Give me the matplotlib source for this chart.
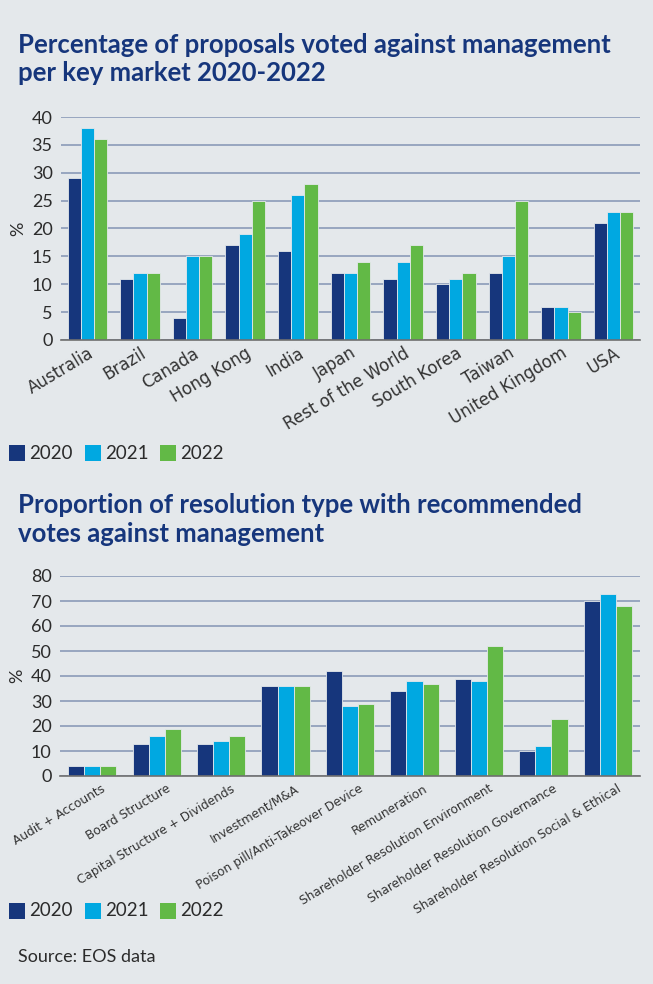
import matplotlib
matplotlib.use("Agg")
import matplotlib.pyplot as plt
import matplotlib.patches as patches
import matplotlib.transforms as mtransforms
import numpy as np

# ---- data ----
years = ["2020", "2021", "2022"]

markets = ["Australia", "Brazil", "Canada", "Hong Kong", "India", "Japan",
           "Rest of the World", "South Korea", "Taiwan", "United Kingdom", "USA"]
market_2020 = [29, 11, 4, 17, 16, 12, 11, 10, 12, 6, 21]
market_2021 = [38, 12, 15, 19, 26, 12, 14, 11, 15, 6, 23]
market_2022 = [36, 12, 15, 25, 28, 14, 17, 12, 25, 5, 23]

resolutions = ["Audit + Accounts", "Board Structure", "Capital Structure + Dividends",
               "Investment/M&A", "Poison pill/Anti-Takeover Device", "Remuneration",
               "Shareholder Resolution Environment", "Shareholder Resolution Governance",
               "Shareholder Resolution Social & Ethical"]
res_2020 = [4, 13, 13, 36, 42, 34, 39, 10, 70]
res_2021 = [4, 16, 14, 36, 28, 38, 38, 12, 73]
res_2022 = [4, 19, 16, 36, 29, 37, 52, 23, 68]

# ---- style ----
BG = "#e4e8eb"
NAVY = "#16367c"
COLORS = ["#16367c", "#00a8e1", "#62b946"]
GRID = "#97a6bf"
TXT = "#2b2b2b"
LABEL_FONT = ["DejaVu Sans"]

plt.rcParams["font.family"] = ["Lato", "DejaVu Sans"]

W, H = 653, 984
fig = plt.figure(figsize=(W / 100, H / 100), dpi=100)
fig.patch.set_facecolor(BG)


def px_axes(left, top, right, bottom):
    return fig.add_axes([left / W, 1 - bottom / H, (right - left) / W, (bottom - top) / H])


def bar_panel(ax, cats, series, ymax, step, lab_fs, shift_px=0):
    x = np.arange(len(cats))
    bw = 0.25
    for i, vals in enumerate(series):
        ax.bar(x + (i - 1) * bw, vals, width=bw, color=COLORS[i],
               edgecolor=BG, linewidth=0.6, zorder=3)
    ax.set_facecolor(BG)
    ax.set_xlim(-0.5, len(cats) - 0.5)
    ax.set_ylim(0, ymax)
    ax.set_yticks(np.arange(0, ymax + 1, step))
    ax.yaxis.grid(True, color=GRID, linewidth=1.4, zorder=0)
    for s in ["top", "right", "left"]:
        ax.spines[s].set_visible(False)
    ax.spines["bottom"].set_color("#6f6f6f")
    ax.spines["bottom"].set_linewidth(1.2)
    ax.spines["bottom"].set_zorder(4)
    ax.tick_params(axis="both", length=0, colors=TXT)
    ax.tick_params(axis="y", labelsize=13, pad=6)
    ax.tick_params(axis="x", pad=3)
    ax.set_xticks(x)
    labels = ax.set_xticklabels(cats, rotation=31, ha="right", rotation_mode="anchor",
                                fontsize=lab_fs, color="#333333", family=LABEL_FONT)
    if shift_px:
        off = mtransforms.ScaledTranslation(shift_px / 100, -2 / 100, fig.dpi_scale_trans)
        for lab in labels:
            lab.set_transform(lab.get_transform() + off)
    ax.set_ylabel("%", fontsize=13, color=TXT, labelpad=4)


def title(lines, y1, y2):
    for txt, y in zip(lines, (y1, y2)):
        fig.text(18 / W, 1 - y / H, txt, fontsize=18.5, fontweight="bold",
                 color=NAVY, va="baseline", ha="left")


# ---- top chart ----
title(["Percentage of proposals voted against management", "per key market 2020-2022"], 53, 81)
ax1 = px_axes(61, 117, 640, 340)
bar_panel(ax1, markets, [market_2020, market_2021, market_2022], 40, 5, 12)

# ---- bottom chart ----
title(["Proportion of resolution type with recommended", "votes against management"], 513, 542)
ax2 = px_axes(60, 576, 640, 776)
bar_panel(ax2, resolutions, [res_2020, res_2021, res_2022], 80, 10, 8.7, shift_px=9)


def legend_row(ypx):
    xs = [9, 85, 160]
    for i, yr in enumerate(years):
        fig.patches.append(patches.Rectangle((xs[i] / W, 1 - (ypx + 8) / H), 16 / W, 16 / H,
                                             transform=fig.transFigure, facecolor=COLORS[i],
                                             edgecolor="none"))
        fig.text((xs[i] + 20) / W, 1 - ypx / H, yr, fontsize=13.5, color=TXT,
                 va="center", ha="left")


legend_row(453)
legend_row(911)

fig.text(18 / W, 1 - 957 / H, "Source: EOS data", fontsize=13, color=TXT, va="center", ha="left")

fig.savefig("out.png", dpi=100, facecolor=BG)
